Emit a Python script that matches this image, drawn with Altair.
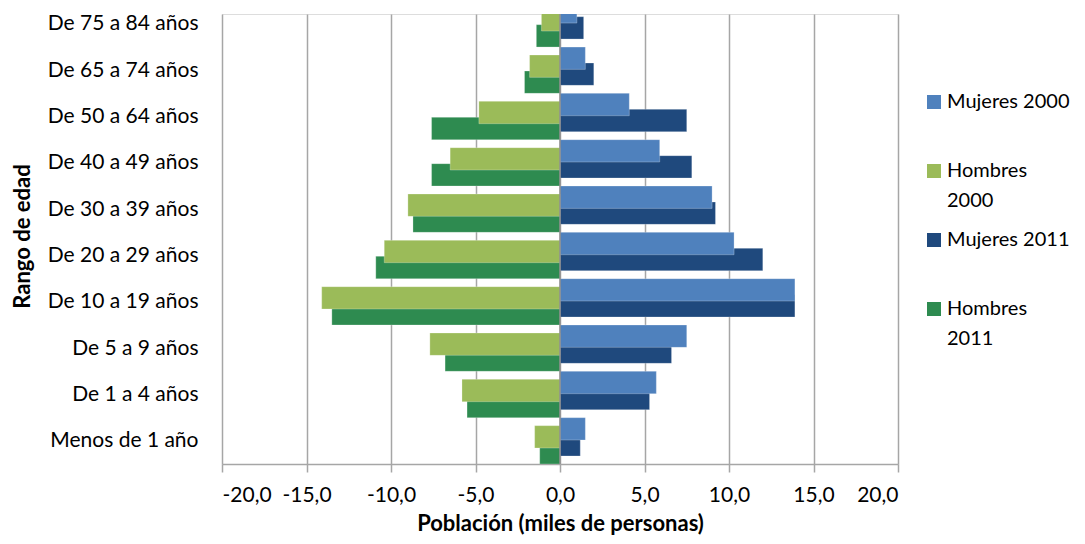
import json
import altair as alt
import pandas as pd

categorias = ["Menos de 1 año", "De 1 a 4 años", "De 5 a 9 años", "De 10 a 19 años",
              "De 20 a 29 años", "De 30 a 39 años", "De 40 a 49 años", "De 50 a 64 años",
              "De 65 a 74 años", "De 75 a 84 años"]
mujeres_2000 = [1.5, 5.7, 7.5, 13.9, 10.3, 9.0, 5.9, 4.1, 1.5, 1.0]
hombres_2000 = [-1.5, -5.8, -7.7, -14.1, -10.4, -9.0, -6.5, -4.8, -1.8, -1.1]
mujeres_2011 = [1.2, 5.3, 6.6, 13.9, 12.0, 9.2, 7.8, 7.5, 2.0, 1.4]
hombres_2011 = [-1.2, -5.5, -6.8, -13.5, -10.9, -8.7, -7.6, -7.6, -2.1, -1.4]
series = ["Mujeres 2000", "Hombres 2000", "Mujeres 2011", "Hombres 2011"]
colores = ["#4F81BD", "#9BBB59", "#1F497D", "#2E8B50"]
ticks_x = [-20, -15, -10, -5, 0, 5, 10, 15, 20]

valores = [mujeres_2000, hombres_2000, mujeres_2011, hombres_2011]
rows = []
for k, (s, vals) in enumerate(zip(series, valores)):
    for i, v in enumerate(vals):
        rows.append({"serie": s, "k": k, "idx": i, "valor": v,
                     "capa": 0 if "2011" in s else 1})
df = pd.DataFrame(rows)

FONT = "Lato"
label_expr_y = json.dumps(categorias) + "[datum.value]"
label_expr_x = "(datum.value < 0 ? '-' : '') + replace(format(abs(datum.value), '.1f'), '.', ',')"

base = alt.Chart(df).transform_calculate(
    ytop="datum.idx + 0.5 - datum.k * 0.1725",
    ybot="datum.idx + 0.5 - datum.k * 0.1725 - 0.4825",
)

bars = base.mark_bar(clip=True, stroke="white", strokeWidth=0.5, strokeOpacity=0.5).encode(
    x=alt.X("valor:Q",
            scale=alt.Scale(domain=[-20, 20], nice=False),
            axis=alt.Axis(values=ticks_x, labelExpr=label_expr_x, grid=True,
                          gridColor="#a6a6a6", gridWidth=1.5,
                          domainColor="#a6a6a6", domainWidth=1.5,
                          tickColor="#a6a6a6", tickWidth=1.5, tickSize=8,
                          labelFont=FONT, labelFontSize=21, labelColor="#000000",
                          labelPadding=12,
                          title="Población (miles de personas)",
                          titleFont=FONT, titleFontSize=22, titleFontWeight="bold",
                          titleColor="#000000", titleY=66, titleBaseline="alphabetic")),
    x2=alt.X2(datum=0),
    y=alt.Y("ytop:Q",
            scale=alt.Scale(domain=[-0.5, 9.213], nice=False, zero=False),
            axis=alt.Axis(values=list(range(len(categorias))), labelExpr=label_expr_y,
                          grid=False, domain=False, ticks=False, tickSize=0,
                          labelFont=FONT, labelFontSize=21, labelColor="#000000",
                          labelPadding=24, labelAlign="right", labelBaseline="middle",
                          title="Rango de edad", titleFont=FONT, titleFontSize=22,
                          titleFontWeight="bold", titleColor="#000000",
                          titleX=-200, titleY=222, titleAlign="center",
                          titleBaseline="middle")),
    y2="ybot:Q",
    color=alt.Color("serie:N",
                    scale=alt.Scale(domain=series, range=colores),
                    legend=alt.Legend(title=None, orient="none", legendX=702, legendY=78,
                                      symbolType="square", symbolSize=196,
                                      symbolStrokeWidth=0, labelOffset=3,
                                      labelFont=FONT, labelFontSize=20,
                                      labelColor="#000000", labelLimit=300,
                                      rowPadding=19, padding=0,
                                      labelBaseline="middle",
                                      labelExpr="indexof(datum.label, 'Hombres') == 0 ? split(datum.label, ' ') : [datum.label, '']")),
    order=alt.Order("capa:Q"),
)

zero = alt.Chart(pd.DataFrame({"cero": [0]})).mark_rule(color="#8c8c8c", strokeWidth=1.5).encode(
    x="cero:Q"
)

chart = alt.layer(bars, zero).properties(
    width=676, height=450,
    autosize=alt.AutoSizeParams(type="none"),
    padding={"left": 214, "top": 6, "right": 179, "bottom": 72},
).configure_view(strokeWidth=0).configure(
    style={"guide-label": {"lineHeight": 30}}
)

chart.save("out.html", embed_options={"renderer": "svg", "actions": False})
